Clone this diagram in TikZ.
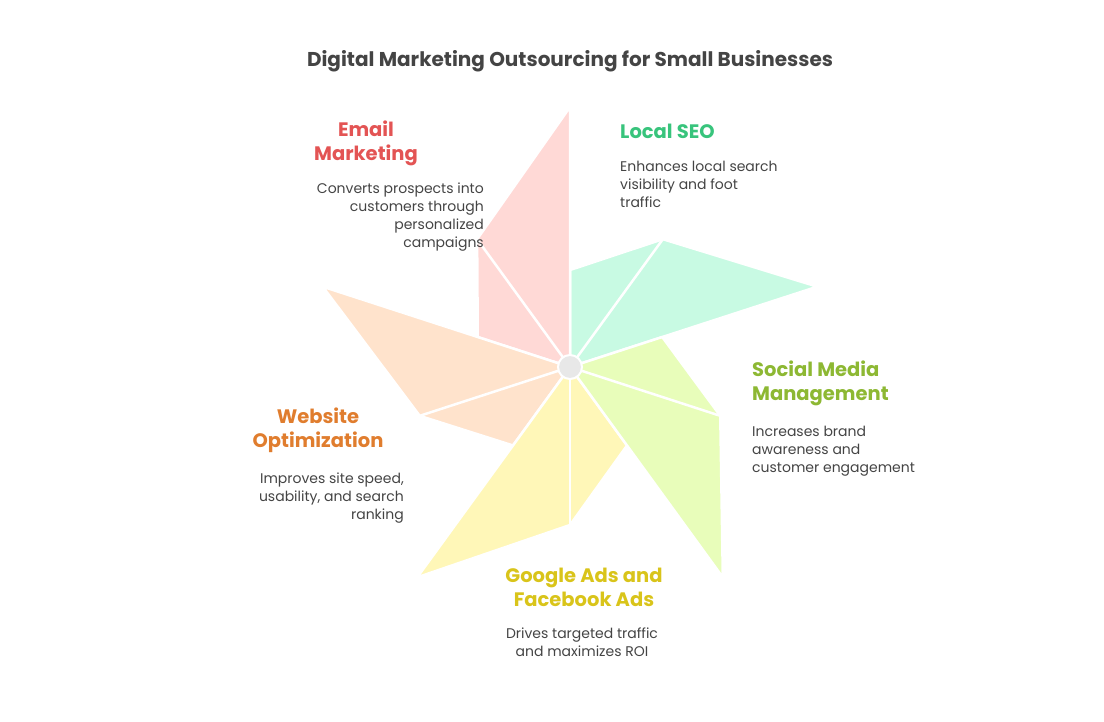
\documentclass[tikz,border=0pt]{standalone}
\usepackage{fontspec}
\setmainfont{Poppins}
\usetikzlibrary{positioning,calc}
\definecolor{gristexto}{RGB}{68,68,68}
\definecolor{ejegris}{RGB}{232,232,232}
\definecolor{rojo}{RGB}{227,84,84}
\definecolor{verde}{RGB}{56,196,124}
\definecolor{lima}{RGB}{141,184,51}
\definecolor{amarillo}{RGB}{217,196,26}
\definecolor{naranja}{RGB}{224,125,46}
\definecolor{rojoclaro}{RGB}{255,217,214}
\definecolor{verdeclaro}{RGB}{200,250,227}
\definecolor{limaclaro}{RGB}{232,253,186}
\definecolor{amarilloclaro}{RGB}{255,247,184}
\definecolor{naranjaclaro}{RGB}{255,227,204}

\begin{document}
\begin{tikzpicture}[x=1pt, y=-1pt,
    titulo/.style={font=\fontsize{20}{24}\selectfont\bfseries, text=gristexto},
    encabezado/.style={font=\fontsize{19.5}{24}\selectfont\bfseries, inner sep=0pt},
    descripcion/.style={font=\fontsize{14}{18}\selectfont, text=gristexto, inner sep=0pt},
    aspa/.style={draw=white, line width=2.5pt, line join=round},
    corte/.style={draw=white, line width=2.5pt}]
  \useasboundingbox (0,0) rectangle (1104,721);
  \node[titulo] (titulo) at (570,61) {Digital Marketing Outsourcing for Small Businesses};
  % aspas del molinete
  \begin{scope}[shift={(570,367)}, yscale=-1]
    \foreach \ang/\col in {18/verdeclaro, 90/rojoclaro, 162/naranjaclaro, 234/amarilloclaro, 306/limaclaro} {
      \filldraw[aspa, fill=\col] (0,0) -- (\ang:260) -- (\ang+36:158) -- (\ang+72:97) -- cycle;
      \draw[corte] (0,0) -- (\ang+36:158);
    }
    \node[circle, fill=ejegris, draw=white, line width=2pt, minimum size=24pt, inner sep=0pt] (eje) at (0,0) {};
  \end{scope}
  % textos
  \node[encabezado, text=verde, anchor=west] (seo) at (620,131) {Local SEO};
  \node[descripcion, anchor=north west, align=left] (seoTexto) at (620,161)
    {Enhances local search\\visibility and foot\\traffic};
  \node[encabezado, text=rojo, align=center] (email) at (366,143) {Email\\Marketing};
  \node[descripcion, anchor=north east, align=right] (emailTexto) at (484,183)
    {Converts prospects into\\customers through\\personalized\\campaigns};
  \node[encabezado, text=lima, anchor=west, align=left] (social) at (752,383) {Social Media\\Management};
  \node[descripcion, anchor=north west, align=left] (socialTexto) at (752,426)
    {Increases brand\\awareness and\\customer engagement};
  \node[encabezado, text=naranja, align=center] (web) at (318,430) {Website\\Optimization};
  \node[descripcion, anchor=north east, align=right] (webTexto) at (404,473)
    {Improves site speed,\\usability, and search\\ranking};
  \node[encabezado, text=amarillo, align=center] (ads) at (584,587) {Google Ads and\\Facebook Ads};
  \node[descripcion, align=center] (adsTexto) at (582,642)
    {Drives targeted traffic\\and maximizes ROI};
\end{tikzpicture}
\end{document}
